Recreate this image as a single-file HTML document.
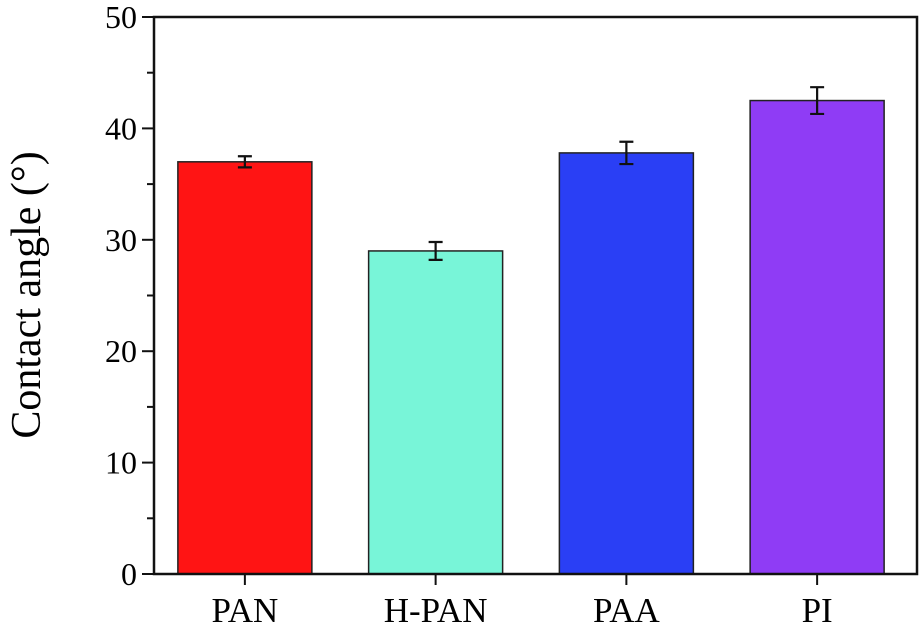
<!DOCTYPE html>
<html><head><meta charset="utf-8"><style>
html,body{margin:0;padding:0;background:#fff;}
svg{display:block;font-family:"Liberation Serif",serif;}
</style></head><body>
<svg id="chart" width="922" height="632" viewBox="0 0 922 632" xmlns="http://www.w3.org/2000/svg">
<g id="marks"></g>
<text transform="translate(40,295) rotate(-90)" text-anchor="middle" font-size="42">Contact angle (°)</text>
</svg>
<script>
const categories = ["PAN","H-PAN","PAA","PI"];
const values = [37.0, 29.0, 37.8, 42.5];
const errors = [0.5, 0.8, 1.0, 1.2];
const colors = ["#ff1414","#78f5d8","#2a3ff5","#8f3cf5"];
const yTicks = [0,10,20,30,40,50];

const L=154, R=917, T=17, B=574, yMax=50;
const y = v => B - v/yMax*(B-T);
const band = (R-L)/4;
const xc = i => L + band*(i+0.5) - 4.5;
const bw = 134;
const NS="http://www.w3.org/2000/svg";
const g=document.getElementById('marks');
function mk(tag, attrs){const e=document.createElementNS(NS,tag);for(const k in attrs)e.setAttribute(k,attrs[k]);g.appendChild(e);return e;}

categories.forEach((c,i)=>{
  const b=mk('rect',{x:xc(i)-bw/2,y:y(values[i]),width:bw,height:B-y(values[i]),fill:colors[i],stroke:'#222','stroke-width':1.5});
  
  
  const e=mk('path',{d:`M${xc(i)} ${y(values[i]+errors[i])}V${y(values[i]-errors[i])}M${xc(i)-7} ${y(values[i]+errors[i])}h14M${xc(i)-7} ${y(values[i]-errors[i])}h14`,stroke:'#111','stroke-width':2.2,fill:'none'});
  
  
  const t=mk('path',{d:`M${xc(i)} ${B}v11`,stroke:'#111','stroke-width':2});
  
  
  const l=mk('text',{x:xc(i),y:622,'text-anchor':'middle','font-size':35});
  l.textContent=c;
  
  
});
yTicks.forEach(v=>{
  const t=mk('path',{d:`M${L-12} ${y(v)}H${L}`,stroke:'#111','stroke-width':2});
  
  
  const l=mk('text',{x:137,y:y(v)+11,'text-anchor':'end','font-size':32});
  l.textContent=v;
  
  
  if(v<yMax){
    const m=mk('path',{d:`M${L-7} ${y(v+5)}H${L}`,stroke:'#111','stroke-width':2});
    
    
  }
});
const f=mk('rect',{x:L,y:T,width:R-L,height:B-T,fill:'none',stroke:'#111','stroke-width':2.5});


</script>
</body></html>
